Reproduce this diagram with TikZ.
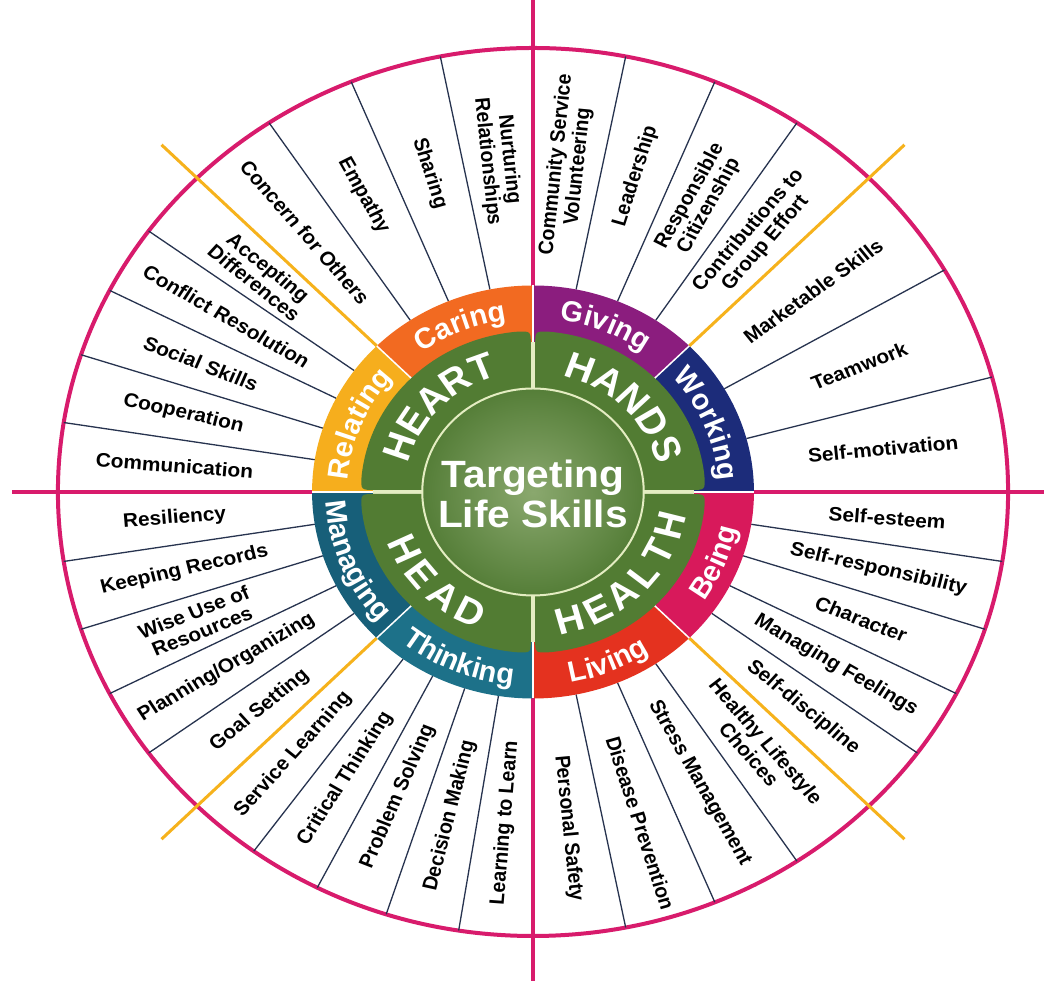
\documentclass[tikz,border=0pt]{standalone}
\usepackage{fontspec}
\newfontfamily\lsans{Liberation Sans}
\usetikzlibrary{decorations.text}
\definecolor{pinkline}{HTML}{D81B6C}
\definecolor{orangeline}{HTML}{F6B21C}
\definecolor{divline}{HTML}{27334F}
\definecolor{caring}{HTML}{F26A21}
\definecolor{relating}{HTML}{F6AE1D}
\definecolor{giving}{HTML}{8B1D7E}
\definecolor{working}{HTML}{1C2C7A}
\definecolor{being}{HTML}{D8195B}
\definecolor{living}{HTML}{E4321F}
\definecolor{thinking}{HTML}{1D7189}
\definecolor{managing}{HTML}{175F79}
\definecolor{lobe}{HTML}{527C33}
\definecolor{centerlight}{HTML}{8AA86E}
\definecolor{centerdark}{HTML}{557E38}
\definecolor{paleline}{HTML}{E4EDC2}
\newcommand{\bandfont}{\lsans\bfseries\fontsize{29}{29}\selectfont\color{white}}
\tikzset{
  skill/.style={font=\lsans\bfseries\fontsize{19.5}{20.5}\selectfont, align=center, text=black, transform shape, inner sep=0pt},
  quad/.style={font=\lsans\bfseries\fontsize{37}{37}\selectfont, text=white, transform shape, inner sep=0pt},
  title/.style={font=\lsans\bfseries\fontsize{38}{40}\selectfont, align=center, text=white, transform shape, inner sep=0pt},
  divider/.style={divline, line width=1.3pt},
  diag/.style={orangeline, line width=3pt},
  pinkstroke/.style={pinkline, line width=4pt},
  bandlabel/.style={decorate, decoration={text along path, text align=center, text={#1}}},
}
\begin{document}
\begin{tikzpicture}[x=1pt,y=1pt]
\useasboundingbox (0,0) rectangle (1044,981);
\fill[white] (0,0) rectangle (1044,981);
% pink cross
\draw[pinkstroke] (533,0) -- (533,981);
\draw[pinkstroke] (12,489) -- (1044,489);
\begin{scope}[shift={(533,489)}, xscale=1.07]
  % outer ellipse
  \draw[pinkstroke] (0,0) circle[radius=444];
  % orange diagonals
  \foreach \a in {45,135,225,315} \draw[diag] (\a:206.5) -- (\a:491);
  % divider lines
  \foreach \a in {101.25,112.5,123.75, 144,153,162,171, 78.75,67.5,56.25, 30,15,
                  -9,-18,-27,-36, -56.25,-67.5,-78.75, 189,198,207,216, 234,243,252,261}
    \draw[divider] (\a:206.5) -- (\a:444);
  % band
  \fill[caring]   (0,0) -- (90:206.5)  arc[start angle=90,  end angle=135, radius=206.5] -- cycle;
  \fill[relating] (0,0) -- (135:206.5) arc[start angle=135, end angle=180, radius=206.5] -- cycle;
  \fill[managing] (0,0) -- (180:206.5) arc[start angle=180, end angle=225, radius=206.5] -- cycle;
  \fill[thinking] (0,0) -- (225:206.5) arc[start angle=225, end angle=270, radius=206.5] -- cycle;
  \fill[living]   (0,0) -- (270:206.5) arc[start angle=270, end angle=315, radius=206.5] -- cycle;
  \fill[being]    (0,0) -- (315:206.5) arc[start angle=315, end angle=360, radius=206.5] -- cycle;
  \fill[working]  (0,0) -- (0:206.5)   arc[start angle=0,   end angle=45,  radius=206.5] -- cycle;
  \fill[giving]   (0,0) -- (45:206.5)  arc[start angle=45,  end angle=90,  radius=206.5] -- cycle;
  \foreach \a in {0,45,...,315} \draw[white, line width=1.5pt] (\a:150) -- (\a:206.5);
  % pale cross between lobes
  \draw[paleline, line width=4pt] (0,-150) -- (0,150) (-150,0) -- (150,0);
  % lobes
  \foreach \r in {0,90,180,270}
    \fill[lobe, rotate=\r] (2,2) -- (2,147) .. controls (2,161) .. (84.3:161)
      arc[start angle=84.3, end angle=5.7, radius=161] .. controls (161,2) .. (147,2) -- cycle;
  % center circle
  \shade[inner color=centerlight, outer color=centerdark] (0,0) circle[radius=103.5];
  \draw[paleline, line width=2pt] (0,0) circle[radius=103.5];
  \node[title, name=titletext] at (0,-2) {Targeting\\Life Skills};
  % quadrant words
  \foreach \ch [count=\i] in {H,E,A,R,T} {
    \pgfmathsetmacro\ang{160-(\i-1)*12.25}
    \node[quad, rotate=\ang-90, name=heart\i] at (\ang:133) {\ch};
  }
  \foreach \ch [count=\i] in {H,A,N,D,S} {
    \pgfmathsetmacro\ang{70.4-(\i-1)*12.85}
    \node[quad, rotate=\ang-90, name=hands\i] at (\ang:132) {\ch};
  }
  \foreach \ch [count=\i] in {H,E,A,D} {
    \pgfmathsetmacro\ang{205.6+(\i-1)*12.8}
    \node[quad, rotate=\ang+90, name=head\i] at (\ang:133) {\ch};
  }
  \foreach \ch [count=\i] in {H,E,A,L,T,H} {
    \pgfmathsetmacro\ang{-74.8+(\i-1)*12}
    \node[quad, rotate=\ang+90, name=health\i] at (\ang:132) {\ch};
  }
  % band labels
  \path[bandlabel={|\bandfont|Caring}]   (135:173.5) arc[start angle=135, end angle=90, radius=173.5];
  \path[bandlabel={|\bandfont|Relating}] (180:173.5) arc[start angle=180, end angle=135, radius=173.5];
  \path[bandlabel={|\bandfont|Giving}]   (90:173.5)  arc[start angle=90,  end angle=45,  radius=173.5];
  \path[bandlabel={|\bandfont|Working}]  (45:173.5)  arc[start angle=45,  end angle=0,   radius=173.5];
  \path[bandlabel={|\bandfont|Being}]    (-45:194) arc[start angle=-45, end angle=0,   radius=194];
  \path[bandlabel={|\bandfont|Living}]   (-90:194) arc[start angle=-90, end angle=-45, radius=194];
  \path[bandlabel={|\bandfont|Thinking}] (225:194) arc[start angle=225, end angle=270, radius=194];
  \path[bandlabel={|\bandfont|Managing}] (180:194) arc[start angle=180, end angle=225, radius=194];
  % skills: Caring
  \node[skill, rotate=-84.375, name=s1] at (95.625:333) {Nurturing\\Relationships};
  \node[skill, rotate=-73.125, name=s2] at (106.875:333) {Sharing};
  \node[skill, rotate=-61.875, name=s3] at (118.125:336) {Empathy};
  \node[skill, rotate=-50.625, name=s4] at (129.375:336) {Concern for Others};
  % Relating
  \node[skill, rotate=-40.5, name=s5] at (139.5:334) {Accepting\\Differences};
  \node[skill, rotate=-31.5, name=s6] at (148.5:336) {Conflict Resolution};
  \node[skill, rotate=-22.5, name=s7] at (157.5:336) {Social Skills};
  \node[skill, rotate=-13.5, name=s8] at (166.5:336) {Cooperation};
  \node[skill, rotate=-4.5,  name=s9] at (175.5:336) {Communication};
  % Giving
  \node[skill, rotate=84.375, name=s10] at (84.375:328) {Community Service\\Volunteering};
  \node[skill, rotate=73.125, name=s11] at (73.125:330) {Leadership};
  \node[skill, rotate=61.875, name=s12] at (61.875:330) {Responsible\\Citizenship};
  \node[skill, rotate=50.625, name=s13] at (50.625:330) {Contributions to\\Group Effort};
  % Working
  \node[skill, rotate=37.5, name=s14] at (37.5:330) {Marketable Skills};
  \node[skill, rotate=22.5, name=s15] at (22.5:330) {Teamwork};
  \node[skill, rotate=5.5,  name=s16] at (7.5:330) {Self-motivation};
  % Being
  \node[skill, rotate=-4.5,  name=s17] at (-4.5:332) {Self-esteem};
  \node[skill, rotate=-13.5, name=s18] at (-13.5:332) {Self-responsibility};
  \node[skill, rotate=-22.5, name=s19] at (-22.5:332) {Character};
  \node[skill, rotate=-31.5, name=s20] at (-31.5:332) {Managing Feelings};
  \node[skill, rotate=-40.5, name=s21] at (-40.5:332) {Self-discipline};
  % Living
  \node[skill, rotate=-50.625, name=s22] at (-50.625:331) {Healthy Lifestyle\\Choices};
  \node[skill, rotate=-61.875, name=s23] at (-61.875:330) {Stress Management};
  \node[skill, rotate=-73.125, name=s24] at (-73.125:346) {Disease Prevention};
  \node[skill, rotate=-84.375, name=s25] at (-84.375:338) {Personal Safety};
  % Managing
  \node[skill, rotate=4.5,  name=s26] at (184.5:336) {Resiliency};
  \node[skill, rotate=13.5, name=s27] at (193.5:335) {Keeping Records};
  \node[skill, rotate=22.5, name=s28] at (202.5:339) {Wise Use of\\Resources};
  \node[skill, rotate=31.5, name=s29] at (211.5:336) {Planning/Organizing};
  \node[skill, rotate=40.5, name=s30] at (220.5:336) {Goal Setting};
  % Thinking
  \node[skill, rotate=49.5, name=s31] at (229.5:345) {Service Learning};
  \node[skill, rotate=58.5, name=s32] at (238.5:336) {Critical Thinking};
  \node[skill, rotate=67.5, name=s33] at (247.5:330) {Problem Solving};
  \node[skill, rotate=76.5, name=s34] at (256.5:333) {Decision Making};
  \node[skill, rotate=85.5, name=s35] at (265.5:332) {Learning to Learn};
\end{scope}
\end{tikzpicture}
\end{document}
